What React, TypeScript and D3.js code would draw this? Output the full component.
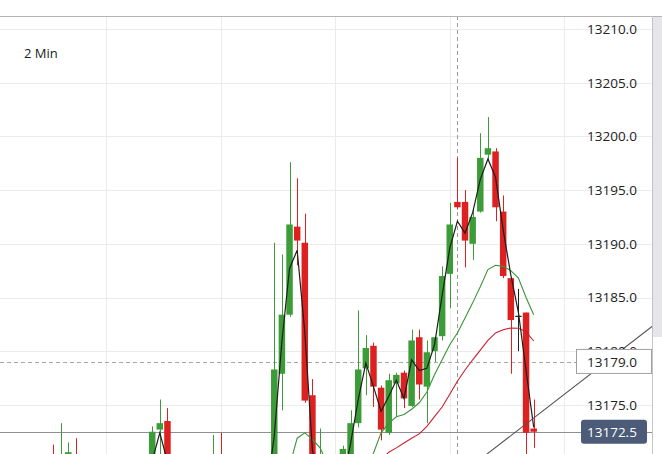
import React from 'react';
import * as d3 from 'd3';

// bar number (2 min bars), only the bars that show in the window
const bars = [0, 1, 2, 3, 13, 14, 15, 21, 22, 29, 30, 31, 32, 33, 34, 35, 38, 39, 40, 41, 42, 43, 44, 45, 46, 47, 48, 49, 50, 51, 52, 53, 54, 55, 56, 57, 58, 59, 60, 61, 62, 63];
const opens = [13169.8, 13168.0, 13170.3, 13169.5, 13169.0, 13172.7, 13173.5, 13168.0, 13169.5, 13168.0, 13177.9, 13183.4, 13191.6, 13190.1, 13175.9, 13167.0, 13169.0, 13169.0, 13173.3, 13178.4, 13180.5, 13176.6, 13172.4, 13177.0, 13178.0, 13174.9, 13181.3, 13176.7, 13180.0, 13181.4, 13187.2, 13193.9, 13193.9, 13190.0, 13193.0, 13198.3, 13198.6, 13193.0, 13186.8, 13183.3, 13183.6, 13172.8];
const highs = [13171.3, 13173.3, 13171.5, 13171.9, 13173.0, 13175.5, 13174.7, 13172.2, 13172.4, 13190.1, 13189.0, 13197.6, 13196.1, 13192.8, 13177.4, 13172.8, 13171.2, 13174.5, 13183.8, 13181.5, 13180.8, 13176.8, 13177.9, 13178.0, 13178.2, 13182.0, 13182.0, 13181.0, 13181.4, 13187.9, 13193.8, 13198.0, 13195.0, 13193.2, 13200.3, 13201.8, 13198.9, 13194.5, 13186.8, 13185.8, 13183.6, 13175.5];
const lows = [13167.5, 13167.0, 13169.0, 13167.5, 13168.0, 13169.0, 13168.0, 13167.0, 13167.0, 13167.0, 13174.5, 13183.2, 13188.0, 13175.2, 13167.0, 13166.0, 13168.0, 13168.0, 13172.9, 13175.9, 13174.8, 13171.7, 13172.2, 13173.9, 13174.7, 13174.8, 13175.5, 13173.3, 13179.0, 13181.0, 13184.0, 13193.2, 13187.8, 13188.5, 13192.9, 13197.8, 13192.1, 13186.8, 13177.9, 13180.0, 13170.3, 13171.0];
const closes = [13168.5, 13169.5, 13170.6, 13168.5, 13172.5, 13173.3, 13169.0, 13169.5, 13168.0, 13178.3, 13183.4, 13191.8, 13190.3, 13175.4, 13168.0, 13169.0, 13170.9, 13173.3, 13178.3, 13180.3, 13176.7, 13172.7, 13177.3, 13177.8, 13175.6, 13181.0, 13176.9, 13179.9, 13181.3, 13187.0, 13191.8, 13193.4, 13190.3, 13192.5, 13198.0, 13198.9, 13193.4, 13187.0, 13182.9, 13183.3, 13172.4, 13172.5];

// moving averages
const fastBars = [13, 14, 15, 28, 29, 30, 31, 32, 33, 34, 35, 38, 39, 40, 41, 42, 43, 44, 45, 46, 47, 48, 49, 50, 51, 52, 53, 54, 55, 56, 57, 58, 59, 60, 61, 62, 63];
const fastVals = [13169.8, 13172.4, 13169.7, 13167.0, 13172.1, 13180.9, 13187.7, 13189.4, 13181.8, 13170.8, 13167.5, 13168.0, 13171.4, 13175.5, 13178.9, 13176.7, 13174.4, 13175.8, 13177.3, 13175.6, 13179.2, 13178.2, 13178.4, 13180.6, 13185.2, 13189.6, 13192.1, 13191.0, 13192.9, 13196.0, 13197.9, 13196.2, 13191.3, 13187.1, 13183.6, 13178.2, 13172.9];
const midBars = [31, 32, 33, 34, 35, 36, 41, 42, 43, 44, 45, 46, 47, 48, 49, 50, 51, 52, 53, 54, 55, 56, 57, 58, 59, 60, 61, 62, 63];
const midVals = [13169.3, 13171.9, 13172.4, 13171.8, 13171.0, 13169.5, 13169.3, 13170.5, 13172.4, 13173.3, 13173.9, 13174.1, 13174.6, 13175.2, 13176.2, 13177.8, 13179.2, 13180.6, 13181.7, 13183.1, 13184.5, 13186.0, 13187.6, 13188.0, 13187.9, 13187.5, 13186.8, 13185.0, 13183.4];
const slowBars = [43, 44, 45, 46, 47, 48, 49, 50, 51, 52, 53, 54, 55, 56, 57, 58, 59, 60, 61, 62, 63];
const slowVals = [13169.8, 13170.6, 13171.0, 13171.45, 13171.9, 13172.3, 13173.0, 13173.9, 13174.8, 13176.0, 13177.2, 13178.25, 13179.2, 13180.1, 13181.0, 13181.7, 13182.0, 13182.16, 13182.13, 13181.8, 13180.95];

// drawn trend line (bar, price)
const trendBars = [56, 80];
const trendPrices = [13169.94, 13183.12];

const gridPrices = [13170, 13175, 13180, 13185, 13190, 13195, 13200, 13205, 13210];
const priceTicks = [13175, 13180, 13185, 13190, 13195, 13200, 13205, 13210];
const lastPrice = 13172.5;
const crossPrice = 13179.0;
const crossBar = 53;
const intervalLabel = '2 Min';

const W = 662;
const H = 454;
const TOP = 16;
const AXIS_X = 652;

const UP = '#3c9c37';
const DOWN = '#dd2020';
const FONT = '"Open Sans", "Noto Sans", sans-serif';

export default function App() {
  const x = d3.scaleLinear().domain([0, 63]).range([53, 533.7]);
  const y = d3.scaleLinear().domain([13170, 13210]).range([458.6, 29]);
  const step = x(1) - x(0);
  const bw = step * 0.85;

  const mkLine = (ks: number[], vs: number[]) => {
    const pts = ks.map((k, i) => ({ k, v: vs[i] }));
    // split where bars are missing
    const segs: { k: number; v: number }[][] = [];
    pts.forEach((p, i) => {
      if (i === 0 || p.k - pts[i - 1].k > 1) segs.push([]);
      segs[segs.length - 1].push(p);
    });
    const gen = d3.line<{ k: number; v: number }>().x(d => x(d.k)).y(d => y(d.v));
    return segs.map(s => gen(s)).join('');
  };

  const gridBars = d3.range(7, 80, 15);

  return (
    <div style={{ position: 'fixed', left: 0, top: 0 }}>
      <svg width={W} height={H} style={{ display: 'block', background: '#fff' }}>
        <defs>
          <clipPath id="plot">
            <rect x={0} y={TOP} width={AXIS_X} height={H - TOP} />
          </clipPath>
        </defs>

        {/* grid */}
        <g stroke="#ebebeb" strokeWidth={1}>
          {gridPrices.map(p => (
            <line key={p} x1={0} x2={AXIS_X} y1={Math.round(y(p)) + 0.5} y2={Math.round(y(p)) + 0.5} />
          ))}
          {gridBars.map(k => (
            <line key={k} x1={Math.round(x(k)) + 0.5} x2={Math.round(x(k)) + 0.5} y1={TOP} y2={H} />
          ))}
        </g>

        <g clipPath="url(#plot)">
          {/* crosshair */}
          <line x1={Math.round(x(crossBar)) + 0.5} x2={Math.round(x(crossBar)) + 0.5} y1={TOP} y2={H}
            stroke="#9a9a9a" strokeDasharray="4 3" />
          <line x1={0} x2={AXIS_X} y1={Math.round(y(crossPrice)) + 0.5} y2={Math.round(y(crossPrice)) + 0.5}
            stroke="#a8a8a8" strokeDasharray="4 3" />

          {/* last price line */}
          <line x1={0} x2={W} y1={Math.round(y(lastPrice)) + 0.5} y2={Math.round(y(lastPrice)) + 0.5}
            stroke="#8e8e94" />

          {/* candles */}
          {bars.map((k, i) => {
            const o = opens[i], c = closes[i];
            const col = c > o ? UP : c < o ? DOWN : '#222';
            const cx = x(k);
            const top = y(Math.max(o, c));
            const bh = Math.max(1.2, y(Math.min(o, c)) - top);
            return (
              <g key={k}>
                <line x1={Math.round(cx) + 0.5} x2={Math.round(cx) + 0.5} y1={y(highs[i])} y2={y(lows[i])} stroke={col} />
                <rect x={cx - bw / 2} y={top} width={bw} height={bh} fill={col} />
              </g>
            );
          })}

          {/* moving averages */}
          <path d={mkLine(slowBars, slowVals)} fill="none" stroke="#c8202e" strokeWidth={1.1} />
          <path d={mkLine(midBars, midVals)} fill="none" stroke="#3a9636" strokeWidth={1.1} />
          <path d={mkLine(fastBars, fastVals)} fill="none" stroke="#1e1e1e" strokeWidth={1.2} />

          {/* trend line */}
          <line x1={x(trendBars[0])} y1={y(trendPrices[0])} x2={x(trendBars[1])} y2={y(trendPrices[1])}
            stroke="#555" strokeWidth={1.1} />
        </g>

        {/* right strip and borders */}
        <rect x={AXIS_X} y={TOP} width={W - AXIS_X} height={337 - TOP} fill="#e6e6ea" />
        <line x1={0} x2={W} y1={TOP + 0.5} y2={TOP + 0.5} stroke="#b4b4b4" />
        <line x1={AXIS_X + 0.5} x2={AXIS_X + 0.5} y1={TOP} y2={H} stroke="#c4c4c8" />

        {/* price axis */}
        <g fontFamily={FONT} fontSize={13.5} fill="#222">
          {priceTicks.map(p => (
            <text key={p} x={587} y={y(p)} dy="0.36em">{p.toFixed(1)}</text>
          ))}
        </g>

        {/* crosshair label */}
        <rect x={576.5} y={y(crossPrice) - 12.5} width={75} height={24} fill="#fff" stroke="#a0a0a0" />
        <text x={587} y={y(crossPrice)} dy="0.36em" fontFamily={FONT} fontSize={13.5} fill="#222">
          {crossPrice.toFixed(1)}
        </text>

        {/* last price label */}
        <rect x={581} y={y(lastPrice) - 12} width={66} height={24} rx={3} fill="#4b5b78" />
        <text x={587} y={y(lastPrice)} dy="0.36em" fontFamily={FONT} fontSize={13.5} fill="#fff">
          {lastPrice.toFixed(1)}
        </text>

        <text x={24} y={58} fontFamily={FONT} fontSize={13} fill="#222">{intervalLabel}</text>
      </svg>
    </div>
  );
}
